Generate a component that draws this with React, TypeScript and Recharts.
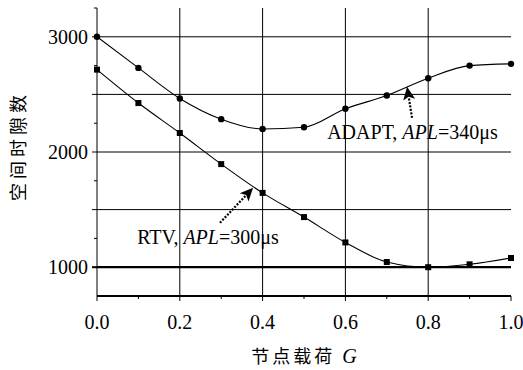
import React from 'react';
import { LineChart, Line, XAxis, YAxis, ReferenceLine, ReferenceArea, ReferenceDot } from 'recharts';

const loads = [0, 0.1, 0.2, 0.3, 0.4, 0.5, 0.6, 0.7, 0.8, 0.9, 1.0];
const adaptSlots = [3000, 2730, 2465, 2285, 2200, 2215, 2375, 2490, 2640, 2750, 2765];
const rtvSlots = [2715, 2425, 2165, 1895, 1645, 1435, 1215, 1045, 1000, 1025, 1080];

const xTicks = [0, 0.1, 0.2, 0.3, 0.4, 0.5, 0.6, 0.7, 0.8, 0.9, 1.0];
const yTicks = [1000, 1250, 1500, 1750, 2000, 2250, 2500, 2750, 3000, 3250];
const yLabelTicks = [1000, 2000, 3000];
const hGrid = [1500, 2000, 2500, 3000];
const vGrid = [0.2, 0.4, 0.6, 0.8];

const data = loads.map((g, i) => ({ g, adapt: adaptSlots[i], rtv: rtvSlots[i] }));

const SERIF = '"Liberation Serif", "Times New Roman", serif';
const CJK = '"Noto Sans CJK SC", sans-serif';

const XTick = (props: any) => {
  const { x, y, payload } = props;
  const v = Number(payload.value);
  const major = Math.round(v * 10) % 2 === 0;
  return (
    <g>
      <line x1={x} x2={x} y1={y} y2={y + (major ? 5 : 3)} stroke="#000" strokeWidth={1} />
      {major && (
        <text x={x} y={y + 33} textAnchor="middle" fontFamily={SERIF} fontSize={20} fill="#000">
          {v.toFixed(1)}
        </text>
      )}
    </g>
  );
};

const YTick = (props: any) => {
  const { x, y, payload } = props;
  const v = Number(payload.value);
  const major = v % 500 === 0;
  return (
    <g>
      <line x1={x - (major ? 5 : 3)} x2={x} y1={y} y2={y} stroke="#000" strokeWidth={major && v === 1000 ? 2 : 1} />
      {yLabelTicks.includes(v) && (
        <text x={x - 9} y={y} dy="0.35em" textAnchor="end" fontFamily={SERIF} fontSize={20} fill="#000">
          {v}
        </text>
      )}
    </g>
  );
};

const SquareDot = (props: any) => {
  const { cx, cy } = props;
  if (cx == null || cy == null) return null;
  return <rect x={cx - 3} y={cy - 3} width={6} height={6} fill="#000" />;
};

const RoundDot = (props: any) => {
  const { cx, cy } = props;
  if (cx == null || cy == null) return null;
  return <circle cx={cx} cy={cy} r={3.2} fill="#000" />;
};

const Arrow = (props: any) => {
  const { x1, y1, x2, y2 } = props;
  if ([x1, y1, x2, y2].some((v) => v == null || isNaN(v))) return null;
  const dx = x2 - x1;
  const dy = y2 - y1;
  const len = Math.sqrt(dx * dx + dy * dy) || 1;
  const ux = dx / len;
  const uy = dy / len;
  const hl = 13;
  const hw = 6;
  const bx = x2 - ux * hl;
  const by = y2 - uy * hl;
  const px = -uy;
  const py = ux;
  return (
    <g>
      <line x1={x1} y1={y1} x2={bx + ux * 2} y2={by + uy * 2} stroke="#000" strokeWidth={2.2} strokeDasharray="2 1.5" />
      <polygon
        points={`${x2},${y2} ${bx + px * hw},${by + py * hw} ${bx + ux * 3},${by + uy * 3} ${bx - px * hw},${by - py * hw}`}
        fill="#000"
      />
    </g>
  );
};

const makeLabel = (name: string, apl: string) => (props: any) => {
  const { cx, cy } = props;
  if (cx == null || cy == null) return null;
  return (
    <text x={cx} y={cy} fontFamily={SERIF} fontSize={20} fill="#000">
      <tspan>{name}, </tspan>
      <tspan fontStyle="italic">APL</tspan>
      <tspan>{'=' + apl + 'μs'}</tspan>
    </text>
  );
};

const AdaptLabel = makeLabel('ADAPT', '340');
const RtvLabel = makeLabel('RTV', '300');

export default function App() {
  return (
    <div style={{ position: 'absolute', left: 0, top: 0, width: 523, height: 370, background: '#fff' }}>
      <LineChart width={523} height={370} data={data} margin={{ top: 8, right: 12, left: 0, bottom: 0 }}>
        <XAxis
          dataKey="g"
          type="number"
          domain={[0, 1]}
          ticks={xTicks}
          height={74}
          tickSize={0}
          tickMargin={0}
          tickLine={false}
          tick={<XTick />}
          axisLine={{ stroke: '#000', strokeWidth: 2 }}
          interval={0}
          label={{
            content: () => (
              <text x={304} y={363} textAnchor="middle" fill="#000">
                <tspan fontFamily={CJK} fontSize={18} letterSpacing={3}>节点载荷 </tspan>
                <tspan fontFamily={SERIF} fontSize={20} fontStyle="italic">G</tspan>
              </text>
            ),
          }}
        />
        <YAxis
          type="number"
          domain={[750, 3250]}
          ticks={yTicks}
          width={97}
          tickSize={0}
          tickMargin={0}
          tickLine={false}
          tick={<YTick />}
          axisLine={{ stroke: '#000', strokeWidth: 1 }}
          interval={0}
          label={{
            content: () => (
              <text
                x={17}
                y={146}
                textAnchor="middle"
                dominantBaseline="central"
                transform="rotate(-90 17 146)"
                fontFamily={CJK}
                fontSize={18}
                letterSpacing={4}
                fill="#000"
              >
                空间时隙数
              </text>
            ),
          }}
        />
        {hGrid.map((v) => (
          <ReferenceLine key={'h' + v} y={v} stroke="#000" strokeWidth={1} />
        ))}
        <ReferenceLine y={1000} stroke="#000" strokeWidth={2.2} />
        {vGrid.map((v) => (
          <ReferenceLine key={'v' + v} x={v} stroke="#000" strokeWidth={1} />
        ))}
        <ReferenceArea x1={0.539} x2={0.995} y1={1967} y2={2297} fill="#fff" fillOpacity={1} stroke="none" ifOverflow="visible" />
        <ReferenceArea x1={0.08} x2={0.49} y1={1073} y2={1385} fill="#fff" fillOpacity={1} stroke="none" ifOverflow="visible" />
        <Line
          type="monotone"
          dataKey="adapt"
          stroke="#000"
          strokeWidth={1.1}
          dot={<RoundDot />}
          activeDot={false}
          isAnimationActive={false}
        />
        <Line
          type="monotone"
          dataKey="rtv"
          stroke="#000"
          strokeWidth={1.1}
          dot={<SquareDot />}
          activeDot={false}
          isAnimationActive={false}
        />
        <ReferenceLine
          segment={[{ x: 0.761, y: 2297 }, { x: 0.749, y: 2566 }]}
          shape={<Arrow />}
          ifOverflow="visible"
        />
        <ReferenceLine
          segment={[{ x: 0.297, y: 1385 }, { x: 0.377, y: 1689 }]}
          shape={<Arrow />}
          ifOverflow="visible"
        />
        <ReferenceDot x={0.556} y={2115} r={0} shape={<AdaptLabel />} ifOverflow="visible" />
        <ReferenceDot x={0.097} y={1203} r={0} shape={<RtvLabel />} ifOverflow="visible" />
      </LineChart>
    </div>
  );
}
